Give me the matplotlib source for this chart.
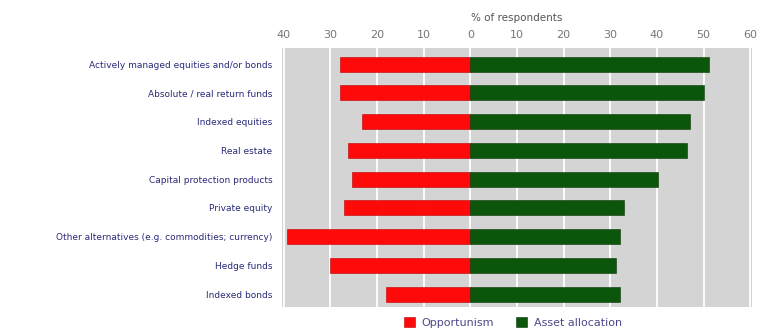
import numpy as np
import matplotlib
matplotlib.use("Agg")
import matplotlib.pyplot as plt

CATEGORIES = ["Actively managed equities and/or bonds",
              "Absolute / real return funds",
              "Indexed equities",
              "Real estate",
              "Capital protection products",
              "Private equity",
              "Other alternatives (e.g. commodities; currency)",
              "Hedge funds",
              "Indexed bonds"]
OPPORTUNISM = [28, 28, 23.2, 26.3, 25.3, 27.1, 39.4, 30.2, 18.2]
ASSET_ALLOCATION = [51.2, 50.1, 47.1, 46.4, 40.2, 33.0, 32.1, 31.3, 32.1]
TICKS = [-40, -30, -20, -10, 0, 10, 20, 30, 40, 50, 60]

RED = "#ff0a0a"
GREEN = "#0b560b"
NAVY = "#2a2a7a"


def main():
    fig = plt.figure(figsize=(7.6, 3.31), dpi=100)
    ax = fig.add_axes([0.371, 0.0725, 0.618, 0.7825])
    ax.set_facecolor("#d4d4d4")

    y = np.arange(len(CATEGORIES))
    ax.barh(y, -np.array(OPPORTUNISM), height=0.52, color=RED,
            edgecolor="#c00000", linewidth=0.4, label="Opportunism", zorder=3)
    ax.barh(y, ASSET_ALLOCATION, height=0.52, color=GREEN,
            edgecolor="#063806", linewidth=0.4, label="Asset allocation",
            zorder=3)

    ax.set_xlim(-40.4, 60.3)
    ax.set_ylim(len(CATEGORIES) - 0.55, -0.56)
    ax.set_xticks(TICKS)
    ax.set_xticklabels([str(abs(t)) for t in TICKS])
    ax.xaxis.tick_top()
    ax.xaxis.set_label_position("top")
    ax.set_xlabel("% of respondents", fontsize=7.5, color="#555555",
                  labelpad=6)
    ax.tick_params(axis="x", length=0, labelsize=8, colors="#777777", pad=6)
    ax.set_yticks(y)
    ax.set_yticklabels(CATEGORIES, fontsize=6.5, color=NAVY)
    ax.tick_params(axis="y", length=0, pad=7)

    ax.grid(axis="x", color="white", linewidth=1.3, zorder=1)
    for s in ax.spines.values():
        s.set_visible(False)

    fig.legend(loc="lower center", bbox_to_anchor=(0.675, -0.02), ncol=2,
               frameon=False, fontsize=8, handlelength=1.0,
               handleheight=1.0, columnspacing=2.0, handletextpad=0.6,
               labelcolor="#4a4a8a")

    fig.savefig("out.png", dpi=100)


if __name__ == '__main__':
    main()
